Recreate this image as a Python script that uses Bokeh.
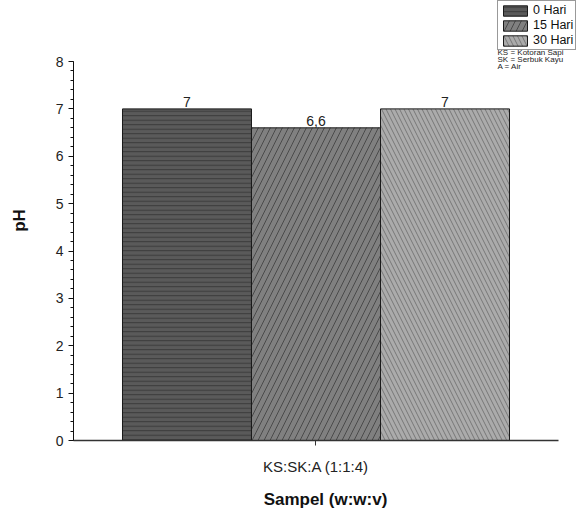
from bokeh.plotting import figure
from bokeh.models import (ColumnDataSource, Range1d, Legend, LegendItem,
                          Label, SingleIntervalTicker, FixedTicker)
from bokeh.core.properties import value
from bokeh.embed import file_html
from bokeh.resources import INLINE

# ---- data ----
sample = ["KS:SK:A (1:1:4)"]
series = ["0 Hari", "15 Hari", "30 Hari"]
ph_values = [7.0, 6.6, 7.0]
value_labels = ["7", "6,6", "7"]
notes = ["KS = Kotoran Sapi", "SK = Serbuk Kayu", "A = Air"]

# ---- styles ----
fills = ["#5a5a5a", "#808080", "#ababab"]
hatch_colors = ["#3a3a3a", "#4a4a4a", "#777777"]
hatches = ["horizontal_line", "right_diagonal_line", "left_diagonal_line"]
hatch_scales = [4.5, 12, 9]
offsets = [-1.0, 0.0, 1.0]
FONT = "Liberation Sans"

# frame spans the whole canvas above/right so the legend and notes are not clipped;
# axes are limited with bounds
p = figure(width=577, height=517,
           x_range=Range1d(-1.8798, 2.0271), y_range=Range1d(0, 9.288),
           output_backend="svg", toolbar_location=None,
           min_border_left=73, min_border_right=0, min_border_top=0, min_border_bottom=77)
p.outline_line_color = None
p.xgrid.grid_line_color = None
p.ygrid.grid_line_color = None
p.background_fill_color = "white"
p.border_fill_color = "white"

items = []
for i, name in enumerate(series):
    src = ColumnDataSource(dict(x=[k + offsets[i] for k in range(len(sample))],
                                top=[ph_values[i]], lab=[value_labels[i]]))
    r = p.vbar(x="x", top="top", width=1.0, source=src,
               fill_color=fills[i], line_color="#1a1a1a", line_width=1,
               hatch_pattern=hatches[i], hatch_color=hatch_colors[i],
               hatch_scale=hatch_scales[i], hatch_weight=1)
    p.text(x="x", y="top", text="lab", source=src,
           text_align="center", text_baseline="bottom", y_offset=-2,
           text_font=value(FONT), text_font_size="14px", text_color="#222222")
    items.append(LegendItem(label=name, renderers=[r]))

legend = Legend(items=items, location=(424, 390), glyph_width=30, glyph_height=13,
                label_text_font=FONT, label_text_font_size="12.5px", label_height=13,
                label_standoff=3, spacing=1, padding=2, margin=0,
                border_line_color="#333333", border_line_width=1,
                background_fill_alpha=1, label_text_color="#111111")
p.add_layout(legend, "center")

for j, t in enumerate(notes):
    p.add_layout(Label(x=424, y=388 - j * 7, x_units="screen", y_units="screen", text=t,
                       text_font=FONT, text_font_size="8px", text_color="#222222",
                       text_baseline="middle"))

# axes
yax = p.yaxis[0]
yax.bounds = (0, 8)
yax.ticker = SingleIntervalTicker(interval=1, num_minor_ticks=5)
yax.axis_label = "pH"
yax.axis_label_text_font = FONT
yax.axis_label_text_font_style = "bold"
yax.axis_label_text_font_size = "17px"
yax.axis_label_text_color = "#111111"
yax.axis_label_standoff = 24
yax.major_label_text_font = FONT
yax.major_label_text_font_size = "14px"
yax.major_label_text_color = "#222222"
yax.major_label_standoff = 5
yax.major_tick_out = 5
yax.major_tick_in = 0
yax.minor_tick_out = 3
yax.minor_tick_in = 0
yax.axis_line_color = "#111111"
yax.major_tick_line_color = "#111111"
yax.minor_tick_line_color = "#111111"

xax = p.xaxis[0]
xax.bounds = (-1.8798, 1.8798)
xax.ticker = FixedTicker(ticks=list(range(len(sample))))
xax.major_label_overrides = {k: s for k, s in enumerate(sample)}
xax.minor_tick_line_color = None
xax.axis_label = "Sampel (w:w:v)"
xax.axis_label_text_font = FONT
xax.axis_label_text_font_style = "bold"
xax.axis_label_text_font_size = "17px"
xax.axis_label_text_color = "#111111"
xax.axis_label_standoff = 12
xax.major_label_text_font = FONT
xax.major_label_text_font_size = "15px"
xax.major_label_text_color = "#222222"
xax.major_label_standoff = 12
xax.major_tick_out = 5
xax.major_tick_in = 0
xax.axis_line_color = "#333333"
xax.axis_line_width = 1.5
xax.major_tick_line_color = "#333333"

open("out.html", "w").write(file_html(p, INLINE))
